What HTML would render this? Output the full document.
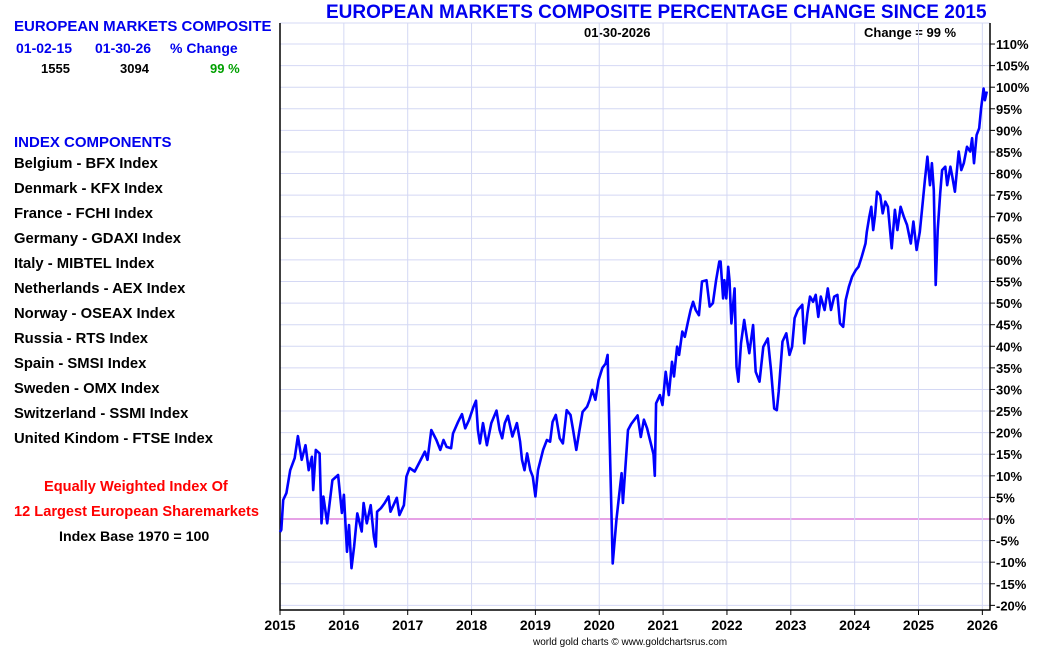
<!DOCTYPE html>
<html><head><meta charset="utf-8"><style>
body{margin:0;background:#fff;width:1050px;height:650px;overflow:hidden;font-family:"Liberation Sans",Arial,sans-serif}
.t{position:absolute;font-weight:bold;white-space:nowrap}
</style></head><body>
<div style="position:relative;width:1050px;height:650px">
<div class="t" style="left:14px;top:18px;font-size:15px;color:#0000ee">EUROPEAN MARKETS COMPOSITE</div>
<div class="t" style="left:16px;top:40px;font-size:14px;color:#0000ee">01-02-15</div>
<div class="t" style="left:95px;top:40px;font-size:14px;color:#0000ee">01-30-26</div>
<div class="t" style="left:170px;top:40px;font-size:14px;color:#0000ee">% Change</div>
<div class="t" style="left:41px;top:61px;font-size:13px">1555</div>
<div class="t" style="left:120px;top:61px;font-size:13px">3094</div>
<div class="t" style="left:210px;top:61px;font-size:13px;color:#00a000">99 %</div>
<div class="t" style="left:14px;top:134px;font-size:15px;color:#0000ee">INDEX COMPONENTS</div>
<div style="position:absolute;left:14px;top:152px;font-size:14.8px;font-weight:bold;line-height:25px">
<div>Belgium - BFX Index</div>
<div>Denmark - KFX Index</div>
<div>France - FCHI Index</div>
<div>Germany - GDAXI Index</div>
<div>Italy - MIBTEL Index</div>
<div>Netherlands - AEX Index</div>
<div>Norway - OSEAX Index</div>
<div>Russia - RTS Index</div>
<div>Spain - SMSI Index</div>
<div>Sweden - OMX Index</div>
<div>Switzerland - SSMI Index</div>
<div>United Kindom - FTSE Index</div>
</div>
<div class="t" style="left:44px;top:479px;font-size:14.6px;color:#ff0000">Equally Weighted Index Of</div>
<div class="t" style="left:14px;top:504px;font-size:14.6px;color:#ff0000">12 Largest European Sharemarkets</div>
<div class="t" style="left:59px;top:529px;font-size:14.2px">Index Base 1970 = 100</div>
<div class="t" style="left:326px;top:2px;font-size:19px;color:#0000ee">EUROPEAN MARKETS COMPOSITE PERCENTAGE CHANGE SINCE 2015</div>
<div class="t" style="left:584px;top:25px;font-size:13px">01-30-2026</div>
<div class="t" style="left:864px;top:25px;font-size:13px">Change = 99 %</div>
<div class="t" style="left:533px;top:637px;font-size:10px;font-weight:normal">world gold charts © www.goldchartsrus.com</div>
<svg id="c" width="1050" height="650" style="position:absolute;left:0;top:0"></svg>
</div>
<script>
const years=[2015,2016,2017,2018,2019,2020,2021,2022,2023,2024,2025,2026];
const yTicks=[-20,-15,-10,-5,0,5,10,15,20,25,30,35,40,45,50,55,60,65,70,75,80,85,90,95,100,105,110];
const dates=[2015.0,2015.02,2015.05,2015.1,2015.16,2015.23,2015.28,2015.34,2015.4,2015.45,2015.5,2015.52,2015.56,2015.62,2015.65,2015.68,2015.74,2015.82,2015.91,2015.97,2016.0,2016.05,2016.08,2016.12,2016.16,2016.21,2016.28,2016.31,2016.36,2016.42,2016.47,2016.5,2016.52,2016.58,2016.64,2016.7,2016.73,2016.83,2016.87,2016.94,2016.98,2017.03,2017.11,2017.19,2017.27,2017.31,2017.37,2017.45,2017.51,2017.56,2017.61,2017.68,2017.71,2017.79,2017.85,2017.9,2017.96,2018.03,2018.07,2018.1,2018.13,2018.18,2018.24,2018.31,2018.39,2018.44,2018.48,2018.52,2018.57,2018.64,2018.71,2018.76,2018.79,2018.83,2018.87,2018.92,2018.96,2019.0,2019.04,2019.12,2019.18,2019.23,2019.27,2019.32,2019.38,2019.43,2019.49,2019.55,2019.59,2019.64,2019.69,2019.74,2019.81,2019.85,2019.89,2019.94,2019.99,2020.05,2020.1,2020.13,2020.16,2020.21,2020.27,2020.32,2020.35,2020.37,2020.45,2020.5,2020.6,2020.65,2020.7,2020.75,2020.8,2020.85,2020.87,2020.89,2020.95,2020.99,2021.04,2021.09,2021.14,2021.17,2021.22,2021.25,2021.3,2021.34,2021.39,2021.43,2021.47,2021.51,2021.56,2021.61,2021.68,2021.73,2021.78,2021.83,2021.88,2021.9,2021.94,2021.96,2021.99,2022.02,2022.04,2022.07,2022.12,2022.15,2022.18,2022.22,2022.27,2022.32,2022.35,2022.41,2022.45,2022.51,2022.57,2022.64,2022.69,2022.74,2022.78,2022.81,2022.87,2022.93,2022.98,2023.02,2023.06,2023.11,2023.18,2023.21,2023.26,2023.3,2023.35,2023.39,2023.43,2023.47,2023.53,2023.58,2023.63,2023.68,2023.73,2023.77,2023.82,2023.86,2023.91,2023.96,2024.02,2024.06,2024.11,2024.17,2024.19,2024.23,2024.26,2024.29,2024.32,2024.35,2024.4,2024.44,2024.48,2024.52,2024.58,2024.63,2024.67,2024.72,2024.77,2024.82,2024.88,2024.92,2024.97,2025.02,2025.06,2025.1,2025.14,2025.18,2025.21,2025.24,2025.27,2025.3,2025.34,2025.37,2025.42,2025.45,2025.5,2025.53,2025.57,2025.63,2025.67,2025.71,2025.76,2025.81,2025.84,2025.87,2025.91,2025.95,2025.98,2026.02,2026.04,2026.07];
const values=[-3,-2.5,4.4,6,11.3,14.1,19.2,13.7,17.1,11.3,14.4,6.7,16,15.2,-1,5.2,-1,9,10.2,1.4,5.6,-7.6,-1.4,-11.4,-6.4,1.3,-2.9,3.7,-1,3.2,-4.1,-6.4,1.7,2.5,3.7,5.2,1.7,4.9,0.9,3.2,9.8,11.8,11,13.3,15.6,13.7,20.6,18.3,16,18.3,16.7,16.4,19.8,22.5,24.3,21,22.9,26,27.4,20.6,17.5,22.2,17.1,22.2,25.1,20.6,18.7,22.2,23.9,19.1,22.2,17.9,13.7,11.3,15.2,11.3,9.8,5.2,11.3,16,18.3,17.9,22.5,24.1,18.7,17.5,25.2,24.1,20.6,16,20.6,24.8,26,27.6,29.9,27.6,32.2,35,36,38,19.9,-10.3,0,6.7,10.6,3.7,20.6,22,24,19,23,21,18,15,10,26.8,28.7,26.4,34.1,28.7,36.4,33,39.9,38,43.4,42.2,45.7,48.4,50.3,48.4,47.2,55,55.3,49.2,50,55.3,59.6,59.6,51.1,55.3,51.1,58.4,55.3,45.3,53.4,35.3,31.8,40.7,46.1,41.1,38.4,44.9,34.1,31.8,39.9,41.8,34.5,25.6,25.2,29.5,41.1,43,38,39.9,46.5,48.4,49.6,40.7,47.6,51.5,50.3,51.9,46.8,51.5,48.4,53.4,48.4,51.5,51.9,45.3,44.5,50.7,53.8,56.1,57.7,58.4,60.7,63.8,66.5,70,72.3,66.9,70.4,75.8,75,70.8,73.5,72.3,62.7,71.6,66.9,72.3,70,68.1,63.8,68.9,62.3,66.5,72.3,78.5,83.9,77.3,82.4,76.2,54.2,66.9,75.4,80.8,81.6,77.3,81.6,79.3,75.8,85.1,80.8,82.4,86.2,85.1,88.2,82.4,88.9,90.5,95.1,99.7,97,99];
const L=280,R=990,T=23,B=610;
const X=d=>280+(d-2015)*63.85;
const Y=v=>519-v*4.318;
const svg=document.getElementById('c');const NS='http://www.w3.org/2000/svg';
function mk(tag,a){const e=document.createElementNS(NS,tag);for(const k in a)e.setAttribute(k,a[k]);svg.appendChild(e);return e;}
yTicks.forEach(v=>{
const g=mk('line',{x1:L,x2:R,y1:Y(v),y2:Y(v),stroke:v===0?'#cc44cc':'#d4d8f4','stroke-width':1});


const tk=mk('line',{x1:R,x2:R+5,y1:Y(v),y2:Y(v),stroke:'#000'});


const t=mk('text',{x:R+6,y:Y(v)+5,'font-size':13,'font-weight':'bold','font-family':'Liberation Sans, sans-serif'});
t.textContent=v+'%';


});
const topLine=mk('line',{x1:L,x2:R,y1:T,y2:T,stroke:'#d4d8f4'});


years.forEach(yr=>{
const x=X(yr);
if(yr>2015){const g=mk('line',{x1:x,x2:x,y1:T,y2:B,stroke:'#d4d8f4'});

}
const tk=mk('line',{x1:x,x2:x,y1:B,y2:B+5,stroke:'#000'});


const t=mk('text',{x:x,y:B+20,'font-size':14,'font-weight':'bold','text-anchor':'middle','font-family':'Liberation Sans, sans-serif'});
t.textContent=yr;


});
const ax=mk('path',{d:`M${L},${T}V${B}H${R}V${T}`,fill:'none',stroke:'#000','stroke-width':1.5});


const p=mk('polyline',{points:dates.map((d,i)=>X(d).toFixed(1)+','+Y(values[i]).toFixed(1)).join(' '),fill:'none',stroke:'#0000ff','stroke-width':2.6,'stroke-linejoin':'round'});


</script>
</body></html>
